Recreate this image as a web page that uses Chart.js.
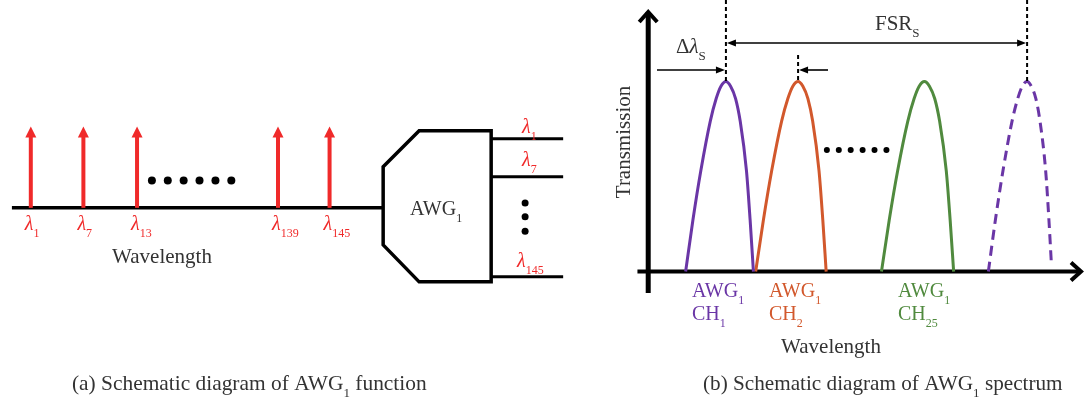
<!DOCTYPE html>
<html><head><meta charset="utf-8">
<script src="https://cdn.jsdelivr.net/npm/chart.js@4.4.1/dist/chart.umd.min.js"></script>
<style>html,body{margin:0;padding:0;background:#fff;overflow:hidden}#wrap{position:relative;width:1084px;height:401px}
#probe{position:absolute;left:-999px;top:0;font-family:"Liberation Serif";font-size:20px}</style>
</head><body><div id="probe">Wavelength λ <i>λ</i></div><div id="wrap"><canvas id="c" width="1084" height="401"></canvas></div>
<script>
// ---------- data ----------
// (a) input comb: channel subscripts and schematic positions on the wavelength axis
const inputChannels = ['1', '7', '13', '139', '145'];
const inputSlots = [1, 1.994, 3.008, 5.672, 6.647];
const inputPower = [1, 1, 1, 1, 1];
const inputDotsX = [3.289, 3.589, 3.889, 4.189, 4.49, 4.79];
const inputDotsY = [0.337, 0.337, 0.337, 0.337, 0.337, 0.337];
const outputChannels = ['1', '7', '145'];
const outputDotsX = [10.343, 10.343, 10.343];
const outputDotsY = [0.06, -0.108, -0.289];
// (b) AWG1 channel transmission spectra
const ch1X  = [8.69, 10.37, 12.21, 14.40, 15.78, 16.89, 18.04, 19.12, 20.28, 21.36, 22.81, 23.66, 24.42];
const ch2X  = [24.95, 26.73, 28.66, 30.96, 32.42, 33.57, 34.79, 35.90, 37.07, 38.18, 39.65, 40.53, 41.31];
const ch25X = [54.15, 55.94, 57.90, 60.25, 61.73, 62.90, 64.12, 65.28, 66.50, 67.65, 69.19, 70.09, 70.90];
const nextX = [78.96, 80.58, 82.35, 84.45, 85.78, 86.84, 87.95, 88.92, 89.98, 90.95, 92.26, 93.02, 93.59];
const peakT = [0, 0.27, 0.53, 0.79, 0.91, 0.975, 1, 0.975, 0.91, 0.79, 0.53, 0.27, 0];
const nextT = [0, 0.27, 0.53, 0.79, 0.91, 0.975, 1, 0.975, 0.91, 0.79, 0.53, 0.27, 0.04];
const channelNames = ['1', '2', '25'];
const spectrumDotsX = [41.47, 44.24, 47.0, 49.77, 52.53, 55.3];
const spectrumDotsY = [0.639, 0.639, 0.639, 0.639, 0.639, 0.639];

// ---------- style ----------
const FONT = '"Liberation Serif", "Times New Roman", serif';
const RED = '#f02a2a', PURPLE = '#6a36a6', ORANGE = '#d2582c', GREEN = '#508a3e', INK = '#333333';
const chColors = [PURPLE, ORANGE, GREEN];

const pts = (xs, ys) => xs.map((x, i) => ({x, y: ys[i]}));

function fontFor(kind, size) {
  if (kind === 1) return Math.round(size * 0.6) + 'px ' + FONT;
  if (kind === 2) return 'italic ' + size + 'px ' + FONT;
  return size + 'px ' + FONT;
}
function rich(ctx, parts, x, y, size, color, align) {
  const w = parts.map(p => { ctx.font = fontFor(p[1], size); return ctx.measureText(p[0]).width; });
  const total = w.reduce((a, b) => a + b, 0);
  let cx = align === 'center' ? x - total / 2 : (align === 'right' ? x - total : x);
  ctx.fillStyle = color; ctx.textAlign = 'left'; ctx.textBaseline = 'alphabetic';
  parts.forEach((p, i) => {
    ctx.font = fontFor(p[1], size);
    ctx.fillText(p[0], cx, p[1] === 1 ? y + size * 0.33 : y);
    cx += w[i];
  });
}
function line(ctx, x1, y1, x2, y2, w, color, dash) {
  ctx.save(); ctx.beginPath(); ctx.strokeStyle = color; ctx.lineWidth = w; ctx.setLineDash(dash || []);
  ctx.moveTo(x1, y1); ctx.lineTo(x2, y2); ctx.stroke(); ctx.restore();
}
function head(ctx, tx, ty, dir, len, hw, color) {
  ctx.save(); ctx.fillStyle = color; ctx.beginPath();
  if (dir === 'r') { ctx.moveTo(tx, ty); ctx.lineTo(tx - len, ty - hw); ctx.lineTo(tx - len, ty + hw); }
  if (dir === 'l') { ctx.moveTo(tx, ty); ctx.lineTo(tx + len, ty - hw); ctx.lineTo(tx + len, ty + hw); }
  if (dir === 'u') { ctx.moveTo(tx, ty); ctx.lineTo(tx - hw, ty + len); ctx.lineTo(tx + hw, ty + len); }
  ctx.closePath(); ctx.fill(); ctx.restore();
}

const drawPlugin = {
  id: 'schematic',
  beforeDatasetsDraw(chart) {
    const ctx = chart.ctx, s = chart.scales;
    const y0 = s.yL.getPixelForValue(0);
    const awgIn = s.xL.getPixelForValue(7.66);
    line(ctx, s.xL.getPixelForValue(0.643), y0, awgIn, y0, 3.5, '#000');
    ctx.save(); ctx.strokeStyle = '#000'; ctx.lineWidth = 3.5; ctx.lineJoin = 'miter';
    ctx.beginPath();
    ctx.moveTo(awgIn, y0 - 41); ctx.lineTo(awgIn + 36, y0 - 77); ctx.lineTo(awgIn + 108, y0 - 77);
    ctx.lineTo(awgIn + 108, y0 + 74); ctx.lineTo(awgIn + 36, y0 + 74); ctx.lineTo(awgIn, y0 + 37);
    ctx.closePath(); ctx.stroke(); ctx.restore();
    const outY = [y0 - 69, y0 - 31, y0 + 69];
    outY.forEach(oy => line(ctx, awgIn + 108, oy, awgIn + 180, oy, 3, '#000'));
    const meta = chart.getDatasetMeta(0);
    meta.data.forEach(el => {
      line(ctx, el.x, y0, el.x, el.y + 8, 4, RED);
      head(ctx, el.x, el.y, 'u', 11, 5.5, RED);
    });
    const ax = s.xR.getPixelForValue(0), ay = s.yR.getPixelForValue(0);
    line(ctx, ax, s.yR.getPixelForValue(-0.113), ax, 12, 5, '#000');
    ctx.save(); ctx.strokeStyle = '#000'; ctx.lineWidth = 4; ctx.lineJoin = 'miter'; ctx.beginPath();
    ctx.moveTo(ax - 9, 22); ctx.lineTo(ax, 12); ctx.lineTo(ax + 9, 22); ctx.stroke();
    ctx.beginPath(); ctx.moveTo(s.xR.getPixelForValue(-2.5), ay); ctx.lineTo(1081, ay); ctx.stroke();
    ctx.beginPath(); ctx.moveTo(1071, ay - 9); ctx.lineTo(1081, ay); ctx.lineTo(1071, ay + 9); ctx.stroke();
    ctx.restore();
  },
  afterDatasetsDraw(chart) {
    const ctx = chart.ctx, s = chart.scales;
    const m0 = chart.getDatasetMeta(0);
    m0.data.forEach((el, i) => rich(ctx, [['λ', 2], [inputChannels[i], 1]], el.x - 6, 230, 20, RED, 'left'));
    rich(ctx, [['Wavelength', 0]], 162, 263, 21, INK, 'center');
    rich(ctx, [['AWG', 0], ['1', 1]], 410, 215, 20, INK, 'left');
    const outBase = [133, 166, 267];
    const outX = [522, 522, 517];
    outputChannels.forEach((c, i) => rich(ctx, [['λ', 2], [c, 1]], outX[i], outBase[i], 20, RED, 'left'));
    const peaks = [18.04, 34.79, 64.12, 87.95].map(v => s.xR.getPixelForValue(v));
    const topY = s.yR.getPixelForValue(1);
    line(ctx, peaks[0], 0, peaks[0], topY, 2, '#000', [4, 3]);
    line(ctx, peaks[1], 55, peaks[1], topY, 2, '#000', [4, 3]);
    line(ctx, peaks[3], 0, peaks[3], topY, 2, '#000', [4, 3]);
    line(ctx, peaks[0] + 6, 43, peaks[3] - 6, 43, 1.6, '#000');
    head(ctx, peaks[0] + 1, 43, 'l', 9, 3.5, '#000');
    head(ctx, peaks[3] - 1, 43, 'r', 9, 3.5, '#000');
    rich(ctx, [['FSR', 0], ['S', 1]], 875, 30, 21, INK, 'left');
    line(ctx, 657, 70, peaks[0] - 6, 70, 1.6, '#000');
    head(ctx, peaks[0] - 1, 70, 'r', 9, 3.5, '#000');
    line(ctx, 828, 70, peaks[1] + 6, 70, 1.6, '#000');
    head(ctx, peaks[1] + 1, 70, 'l', 9, 3.5, '#000');
    rich(ctx, [['Δ', 0], ['λ', 2], ['S', 1]], 676, 53, 21, INK, 'left');
    const labX = [692, 769, 898];
    channelNames.forEach((c, i) => {
      rich(ctx, [['AWG', 0], ['1', 1]], labX[i], 297, 20, chColors[i], 'left');
      rich(ctx, [['CH', 0], [c, 1]], labX[i], 320, 20, chColors[i], 'left');
    });
    rich(ctx, [['Wavelength', 0]], 831, 353, 21, INK, 'center');
    ctx.save(); ctx.translate(630, 142); ctx.rotate(-Math.PI / 2);
    ctx.font = '21px ' + FONT; ctx.fillStyle = INK; ctx.textAlign = 'center'; ctx.textBaseline = 'alphabetic';
    ctx.fillText('Transmission', 0, 0); ctx.restore();
    rich(ctx, [['(a) Schematic diagram of AWG', 0], ['1', 1], [' function', 0]], 72, 390, 21.4, INK, 'left');
    rich(ctx, [['(b) Schematic diagram of AWG', 0], ['1', 1], [' spectrum', 0]], 703, 390, 21.2, INK, 'left');
  }
};

const lineDs = (data, color, dash) => ({
  type: 'line', data, xAxisID: 'xR', yAxisID: 'yR', borderColor: color, borderWidth: 3,
  borderDash: dash || [], pointRadius: 0, fill: false, cubicInterpolationMode: 'monotone', showLine: true
});

function build() {
  new Chart(document.getElementById('c'), {
    type: 'scatter',
    data: {
      datasets: [
        { data: pts(inputSlots, inputPower), xAxisID: 'xL', yAxisID: 'yL', pointRadius: 0 },
        { data: pts(inputDotsX, inputDotsY), xAxisID: 'xL', yAxisID: 'yL', pointRadius: 4, backgroundColor: '#000', borderWidth: 0 },
        { data: pts(outputDotsX, outputDotsY), xAxisID: 'xL', yAxisID: 'yL', pointRadius: 3.5, backgroundColor: '#000', borderWidth: 0 },
        lineDs(pts(ch1X, peakT), PURPLE),
        lineDs(pts(ch2X, peakT), ORANGE),
        lineDs(pts(ch25X, peakT), GREEN),
        lineDs(pts(nextX, nextT), PURPLE, [10, 6]),
        { data: pts(spectrumDotsX, spectrumDotsY), xAxisID: 'xR', yAxisID: 'yR', pointRadius: 3, backgroundColor: '#000', borderWidth: 0 }
      ]
    },
    options: {
      responsive: false, animation: false, devicePixelRatio: 1,
      layout: { padding: 0 },
      plugins: { legend: { display: false }, tooltip: { enabled: false } },
      scales: {
        xL: { type: 'linear', display: false, min: 0.49343, max: 20.8311 },
        yL: { type: 'linear', display: false, min: -2.3253, max: 2.506 },
        xR: { type: 'linear', display: false, min: -149.539, max: 100.23 },
        yR: { type: 'linear', display: false, min: -0.6598, max: 1.40722 }
      }
    },
    plugins: [drawPlugin]
  });
}
Promise.all([
  document.fonts.load('20px "Liberation Serif"', 'Wλ'),
  document.fonts.load('italic 20px "Liberation Serif"', 'λ')
]).then(build, build);
</script></body></html>
